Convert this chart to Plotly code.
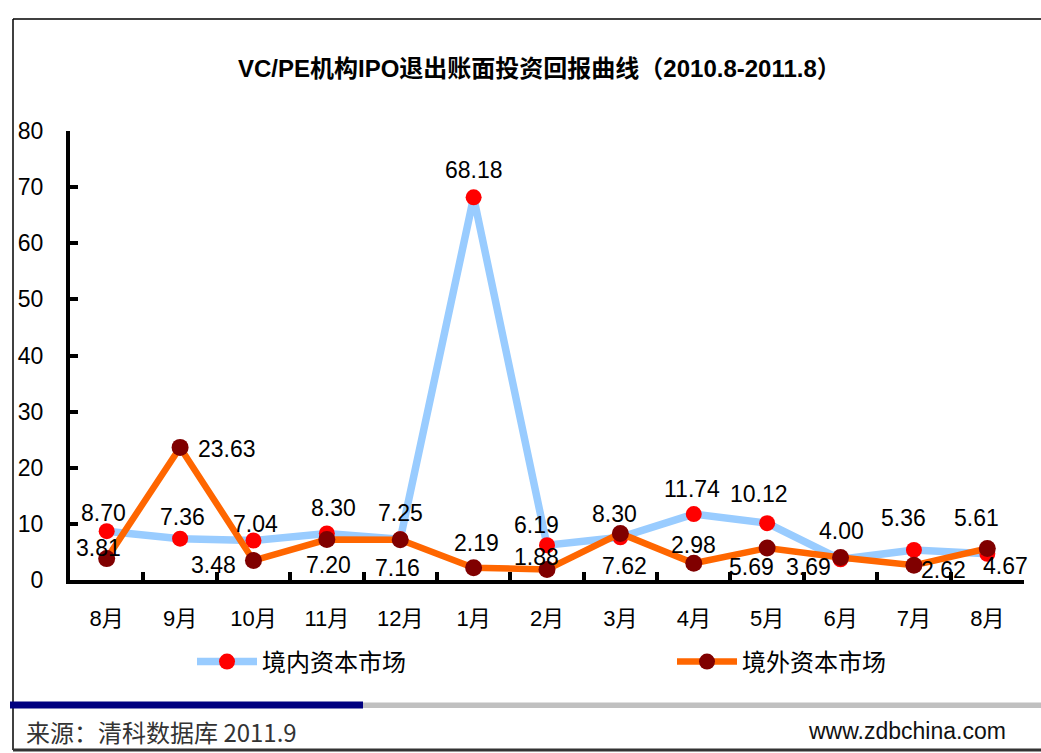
import plotly.graph_objects as go

# ---- data ----
months = ["8月", "9月", "10月", "11月", "12月", "1月", "2月", "3月", "4月", "5月", "6月", "7月", "8月"]
domestic = [8.70, 7.36, 7.04, 8.30, 7.25, 68.18, 6.19, 7.62, 11.74, 10.12, 3.69, 5.36, 4.67]
foreign = [3.81, 23.63, 3.48, 7.20, 7.16, 2.19, 1.88, 8.30, 2.98, 5.69, 4.00, 2.62, 5.61]
name_dom = "境内资本市场"
name_for = "境外资本市场"
title_text = "VC/PE机构IPO退出账面投资回报曲线（2010.8-2011.8）"
source_text = "来源：清科数据库 2011.9"
site_text = "www.zdbchina.com"

# label pixel offsets (dx right, dy down) relative to each marker
dom_off = [(-3, -18), (2, -22), (2, -16), (7, -25), (0, -26), (0, -27),
           (-11, -20), (4, 29), (-2, -25), (-8, -29), (-32, 8), (-10, -32), (18, 12)]
for_off = [(-8, -11), (47, 2), (-40, 5), (2, 25), (-3, 28), (3, -25),
           (-11, -12), (-6, -19), (0, -18), (-16, 19), (1, -27), (30, 5), (-11, -31)]

W, H = 1041, 753
L, R, T, B = 70, 1024, 131, 580
PW, PH = R - L, B - T


def px(x):
    return (x - L) / PW


def py(y):
    return (B - y) / PH


FONT = "Liberation Sans, Arial, Noto Sans CJK SC, sans-serif"
CJK = "Noto Sans CJK SC, Liberation Sans, sans-serif"

xs = list(range(len(months)))

fig = go.Figure()
fig.add_trace(go.Scatter(
    x=xs, y=domestic, name=name_dom, mode="lines+markers",
    line=dict(color="#99CCFF", width=7.5),
    marker=dict(color="#FF0000", size=16), legend="legend",
))
fig.add_trace(go.Scatter(
    x=xs, y=foreign, name=name_for, mode="lines+markers",
    line=dict(color="#FF6600", width=6.5),
    marker=dict(color="#800000", size=17), legend="legend2",
))
# carrier for the category-boundary tick axis
fig.add_trace(go.Scatter(x=xs, y=domestic, xaxis="x2", mode="none",
                         showlegend=False, hoverinfo="skip"))

ann = []
for series, offs in ((domestic, dom_off), (foreign, for_off)):
    for i, v in enumerate(series):
        dx, dy = offs[i]
        ann.append(dict(x=i, y=v, xref="x", yref="y", text=f"{v:.2f}", showarrow=False,
                        xshift=dx, yshift=-dy, xanchor="center", yanchor="middle",
                        font=dict(family=FONT, size=23, color="black")))

ann.append(dict(x=px(539), y=py(68), xref="paper", yref="paper", text="<b>" + title_text + "</b>",
                showarrow=False, xanchor="center", yanchor="middle",
                font=dict(family=FONT, size=24, color="black")))
ann.append(dict(x=px(24), y=py(731), xref="paper", yref="paper", text=source_text,
                showarrow=False, xanchor="left", yanchor="middle",
                font=dict(family=CJK, size=24, color="#333333")))
ann.append(dict(x=px(1008), y=py(731), xref="paper", yref="paper", text=site_text,
                showarrow=False, xanchor="right", yanchor="middle",
                font=dict(family=FONT, size=23, color="#111111")))

shapes = [
    dict(type="line", xref="paper", yref="paper", x0=px(13), x1=px(13), y0=py(19), y1=py(750),
         line=dict(color="#000000", width=1.5)),
    dict(type="line", xref="paper", yref="paper", x0=px(13), x1=px(1041), y0=py(19), y1=py(19),
         line=dict(color="#000000", width=1.5)),
    dict(type="line", xref="paper", yref="paper", x0=px(13), x1=px(1041), y0=py(750), y1=py(750),
         line=dict(color="#333333", width=3)),
    dict(type="rect", xref="paper", yref="paper", x0=px(362), x1=px(1041), y0=py(702.5), y1=py(708),
         line=dict(width=0), fillcolor="#C0C0C0"),
    dict(type="rect", xref="paper", yref="paper", x0=px(10), x1=px(363), y0=py(701.5), y1=py(708.5),
         line=dict(width=0), fillcolor="#000080"),
]

leg_common = dict(orientation="h", yanchor="middle", xanchor="left", itemwidth=60,
                  font=dict(family=CJK, size=24, color="black"), bgcolor="rgba(0,0,0,0)")

fig.update_layout(
    width=W, height=H,
    margin=dict(l=L, r=W - R, t=T, b=H - B),
    paper_bgcolor="white", plot_bgcolor="white",
    showlegend=True,
    legend=dict(x=px(192), y=py(662), **leg_common),
    legend2=dict(x=px(672), y=py(662), **leg_common),
    annotations=ann,
    shapes=shapes,
    xaxis=dict(range=[-0.5, len(months) - 0.5], tickvals=xs, ticktext=months,
               showline=True, linewidth=4, linecolor="black", ticks="",
               showgrid=False, zeroline=False, ticklabelstandoff=16,
               tickfont=dict(family=FONT, size=22, color="black")),
    xaxis2=dict(range=[-0.5, len(months) - 0.5], overlaying="x", anchor="y", side="bottom",
                tickvals=[i - 0.5 for i in range(len(months) + 1)], showticklabels=False,
                ticks="inside", ticklen=8, tickwidth=4, tickcolor="black",
                showline=False, showgrid=False, zeroline=False),
    yaxis=dict(range=[0, 80], dtick=10, showline=True, linewidth=4, linecolor="black",
               ticks="inside", ticklen=8, tickwidth=4, tickcolor="black",
               showgrid=False, zeroline=False, ticklabelstandoff=18,
               tickfont=dict(family=FONT, size=23, color="black")),
)

fig.write_html("out.html", config={"displayModeBar": False},
               post_script="document.body.style.margin='0';")
